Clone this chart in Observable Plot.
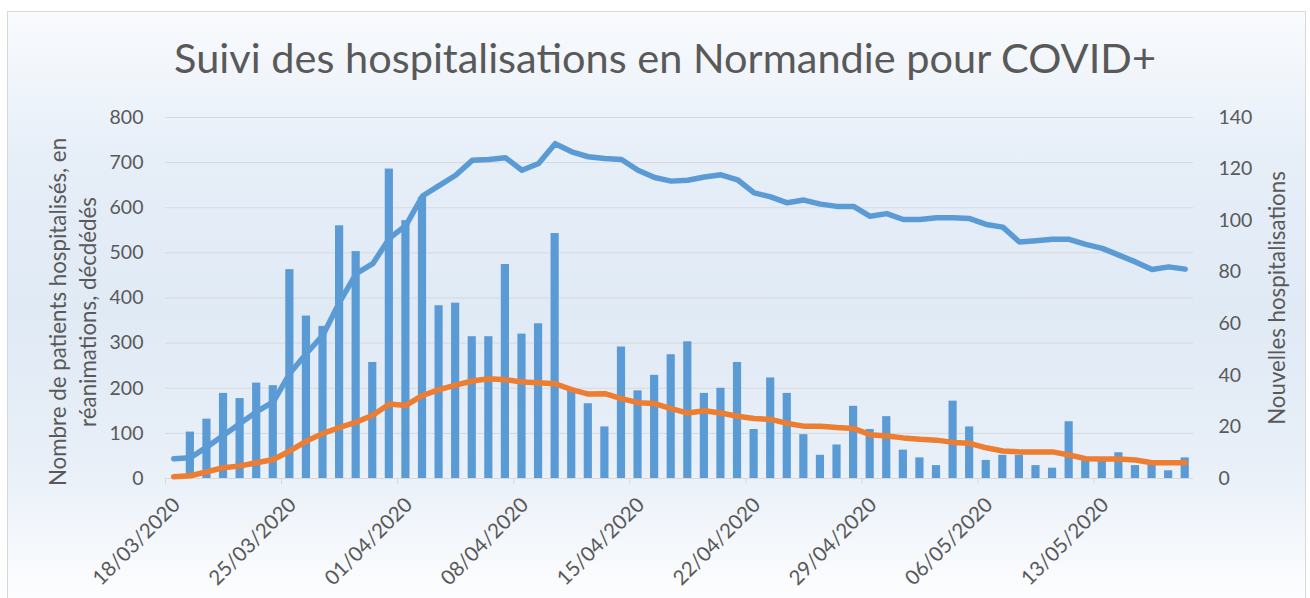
<!DOCTYPE html>
<html>
<head>
<meta charset="utf-8">
<script src="https://cdn.jsdelivr.net/npm/d3@7"></script>
<script src="https://cdn.jsdelivr.net/npm/@observablehq/plot@0.6"></script>
<style>
  html, body { margin: 0; padding: 0; width: 1310px; height: 598px; overflow: hidden; background: #ffffff; }
  #frame { position: absolute; left: 7px; top: 11px; width: 1297px; height: 600px;
    border: 1px solid #d9d9d9; border-bottom: none;
    background: linear-gradient(180deg, #f9fbfd 0%, #e6eef8 25%, #e0eaf5 50%, #e8eff8 75%, #ffffff 100%); }
  #title { position: absolute; left: 20px; top: 33px; width: 1290px; text-align: center;
    font-family: Lato, sans-serif; font-size: 41.5px; line-height: 1.2; color: #595959; }
  #chart { position: absolute; left: 0; top: 100px; }
</style>
</head>
<body>
<div id="frame"></div>
<div id="title">Suivi des hospitalisations en Normandie pour COVID+</div>
<div id="chart"></div>
<script>
// ---- Data ----
const firstDay = "2020-03-18";
const dayCount = 62; // 18/03/2020 .. 18/05/2020

// Nouvelles hospitalisations (right axis, bars)
const nouvellesHosp = [
  0, 18, 23, 33, 31, 37, 36, 81, 63, 59,
  98, 88, 45, 120, 100, 109, 67, 68, 55, 55,
  83, 56, 60, 95, 34, 29, 20, 51, 34, 40,
  48, 53, 33, 35, 45, 19, 39, 33, 17, 9,
  13, 28, 19, 24, 11, 8, 5, 30, 20, 7,
  9, 9, 5, 4, 22, 8, 8, 10, 5, 6,
  3, 8
];

// Patients hospitalisés (left axis, blue line)
const hospitalises = [
  44, 46, 70, 96, 122, 148, 170, 233, 277, 318,
  391, 454, 476, 532, 561, 626, 649, 672, 705, 707,
  711, 683, 698, 742, 724, 713, 709, 707, 683, 667,
  659, 661, 668, 673, 662, 633, 624, 611, 617, 608,
  603, 603, 581, 587, 574, 574, 578, 578, 576, 563,
  557, 524, 527, 530, 530, 519, 510, 495, 480, 463,
  469, 464
];

// Réanimations / décédés (left axis, orange line)
const reanimations = [
  4, 6, 15, 24, 28, 35, 42, 61, 83, 100,
  113, 125, 140, 165, 162, 184, 197, 207, 216, 221,
  219, 214, 212, 210, 197, 187, 188, 177, 168, 166,
  155, 145, 150, 145, 138, 133, 131, 122, 116, 116,
  113, 111, 97, 94, 90, 87, 85, 80, 78, 68,
  61, 59, 59, 59, 52, 44, 43, 43, 41, 35,
  35, 35
];

const tickLabels = ["18/03/2020", "25/03/2020", "01/04/2020", "08/04/2020", "15/04/2020",
                    "22/04/2020", "29/04/2020", "06/05/2020", "13/05/2020"];
const leftTicks = [0, 100, 200, 300, 400, 500, 600, 700, 800];
const rightTicks = [0, 20, 40, 60, 80, 100, 120, 140];
const leftLabel = "Nombre de patients hospitalisés, en\nréanimations, décdédés";
const rightLabel = "Nouvelles hospitalisations";

// ---- Build table ----
const start = d3.utcParse("%Y-%m-%d")(firstDay);
const days = d3.utcDay.range(start, d3.utcDay.offset(start, dayCount));
const rows = days.map((d, i) => ({
  day: d,
  next: d3.utcDay.offset(d, 1),
  mid: d3.utcHour.offset(d, 12),
  nouv: nouvellesHosp[i],
  hosp: hospitalises[i],
  rea: reanimations[i]
}));
const parseFr = d3.utcParse("%d/%m/%Y");
const tickDates = tickLabels.map(parseFr);

const LEFT_MAX = 800, RIGHT_MAX = 140;
const K = LEFT_MAX / RIGHT_MAX; // map right-axis values onto the left scale

const textColor = "#595959";
const grid = "#d9d9d9";
const blue = "#5b9bd5";
const orange = "#ed7d31";

const chart = Plot.plot({
  width: 1310,
  height: 498,
  marginTop: 17,
  marginBottom: 120,
  marginLeft: 165,
  marginRight: 117,
  style: { background: "transparent", fontFamily: "Lato, sans-serif", fontSize: "19px", color: textColor },
  x: { type: "utc", domain: [start, d3.utcDay.offset(start, dayCount)] },
  y: { domain: [0, LEFT_MAX] },
  marks: [
    Plot.gridY(leftTicks, { stroke: grid, strokeOpacity: 1, strokeWidth: 1 }),
    Plot.axisY({ anchor: "left", ticks: leftTicks, tickSize: 0, tickPadding: 22, label: null,
                 fill: textColor, fontSize: 19.5 }),
    Plot.axisY({ anchor: "right", ticks: rightTicks.map(v => v * K), tickSize: 0, tickPadding: 25,
                 tickFormat: d => Math.round(d / K), label: null, fill: textColor, fontSize: 19.5 }),
    Plot.axisX({ ticks: tickDates, tickSize: 6, tickFormat: () => "", label: null, stroke: grid }),
    Plot.ruleY([0], { stroke: grid, strokeWidth: 1.2 }),
    Plot.rectY(rows, { x1: "day", x2: "next", y: d => d.nouv * K, fill: blue, insetLeft: 4.2, insetRight: 4.2 }),
    Plot.line(rows, { x: "mid", y: "hosp", stroke: blue, strokeWidth: 5.5, strokeLinejoin: "round" }),
    Plot.line(rows, { x: "mid", y: "rea", stroke: orange, strokeWidth: 5.5, strokeLinejoin: "round" }),
    Plot.text(tickDates, { x: d => d3.utcHour.offset(d, 12), frameAnchor: "bottom",
      text: (d, i) => tickLabels[i], rotate: -45, textAnchor: "end", lineAnchor: "middle",
      dx: 3, dy: 23, fill: textColor, fontSize: 20.5 }),
    Plot.text([leftLabel], { frameAnchor: "left", text: d => d, rotate: -90, textAnchor: "middle",
      lineAnchor: "middle", lineHeight: 1.36, dx: -94, dy: 14, fill: textColor, fontSize: 22.3 }),
    Plot.text([rightLabel], { frameAnchor: "right", text: d => d, rotate: -90, textAnchor: "middle",
      lineAnchor: "middle", dx: 84, dy: 0, fill: textColor, fontSize: 22.3 })
  ]
});
document.getElementById("chart").append(chart);
</script>
</body>
</html>
